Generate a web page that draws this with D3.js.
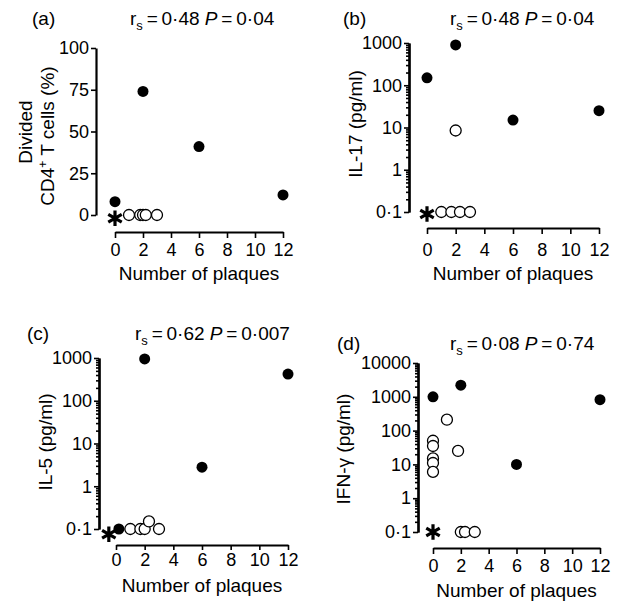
<!DOCTYPE html>
<html>
<head>
<meta charset="utf-8">
<script src="https://cdn.jsdelivr.net/npm/d3@7"></script>
<style>
  body { margin: 0; background: #fff; }
  svg text { font-family: "Liberation Sans", Arial, sans-serif; fill: #000; }
</style>
</head>
<body>
<svg id="chart" width="621" height="601"></svg>
<script>
// shared x axis ticks
const xTicks = [0, 2, 4, 6, 8, 10, 12];

// panel names and stats
const panelNames = ['(a)', '(b)', '(c)', '(d)'];
const rsValues = ['0·48', '0·48', '0·62', '0·08'];
const pValues = ['0·04', '0·04', '0·007', '0·74'];

// (a) divided CD4+ T cells (%)
const aFilledX = [0, 2, 6, 12];
const aFilledY = [8, 74, 41, 12];
const aOpenX = [1, 1.8, 2, 2.2, 3];
const aOpenY = [0, 0, 0, 0, 0];
const aStar = [0, -2];
const aTicks = [0, 25, 50, 75, 100];

// (b) IL-17 (pg/ml)
const bFilledX = [0, 2, 6, 12];
const bFilledY = [150, 900, 15, 25];
const bOpenX = [2, 1, 1.7, 2.3, 3];
const bOpenY = [8.5, 0.1, 0.1, 0.1, 0.1];
const bStar = [0, 0.09];
const bTicks = [0.1, 1, 10, 100, 1000];

// (c) IL-5 (pg/ml)
const cFilledX = [0.2, 2, 6, 12];
const cFilledY = [0.1, 950, 2.8, 420];
const cOpenX = [1, 1.7, 2, 2.3, 3];
const cOpenY = [0.1, 0.1, 0.1, 0.15, 0.1];
const cStar = [-0.5, 0.075];
const cTicks = [0.1, 1, 10, 100, 1000];

// (d) IFN-γ (pg/ml)
const dFilledX = [0, 2, 6, 12];
const dFilledY = [1000, 2200, 10, 820];
const dOpenX = [0, 0, 0, 0, 0, 1, 1.8, 2, 2.3, 3];
const dOpenY = [50, 35, 15, 11, 6, 210, 25, 0.1, 0.1, 0.1];
const dStar = [0, 0.1];
const dTicks = [0.1, 1, 10, 100, 1000, 10000];

const svg = d3.select('#chart');

const fmtLog = v => v < 1 ? '0·1' : String(v);

const panels = [
  { i: 0, log: false, ymin: 0, ymax: 100, yTicks: aTicks, fmt: String,
    filled: [aFilledX, aFilledY], open: [aOpenX, aOpenY], star: aStar,
    yAxisX: 96, xr: [115, 283], yr: [215, 48], xAxisY: 232, xTick: 6, xPad: 5, xTitleY: 273,
    nameX: 32, statX: 130, headY: 18 },
  { i: 1, log: true, ymin: 0.1, ymax: 1000, yTicks: bTicks, fmt: fmtLog,
    filled: [bFilledX, bFilledY], open: [bOpenX, bOpenY], star: bStar,
    yAxisX: 409, xr: [427, 599], yr: [212, 43], xAxisY: 228, xTick: 6, xPad: 9, xTitleY: 273,
    nameX: 343, statX: 450, headY: 18, ylab: 'IL-17 (pg/ml)', ylabX: 355, ylabY: 124 },
  { i: 2, log: true, ymin: 0.1, ymax: 1000, yTicks: cTicks, fmt: fmtLog,
    filled: [cFilledX, cFilledY], open: [cOpenX, cOpenY], star: cStar,
    yAxisX: 99, xr: [116, 288], yr: [529, 358], xAxisY: 545, xTick: 5, xPad: 3, xTitleY: 585,
    nameX: 27, statX: 135, headY: 333, ylab: 'IL-5 (pg/ml)', ylabX: 45, ylabY: 442 },
  { i: 3, log: true, ymin: 0.1, ymax: 10000, yTicks: dTicks, fmt: fmtLog,
    filled: [dFilledX, dFilledY], open: [dOpenX, dOpenY], star: dStar,
    yAxisX: 418, xr: [433, 600], yr: [532, 363], xAxisY: 548, xTick: 6, xPad: 5, xTitleY: 590,
    nameX: 337, statX: 450, headY: 343, ylab: 'IFN-γ (pg/ml)', ylabX: 343, ylabY: 449 }
];

function drawPanel(p) {
  const g = svg.append('g');
  const x = d3.scaleLinear().domain([0, 12]).range(p.xr);
  const y = p.log
    ? d3.scaleLog().domain([p.ymin, p.ymax]).range(p.yr)
    : d3.scaleLinear().domain([p.ymin, p.ymax]).range(p.yr);

  // x axis
  g.append('g')
    .attr('class', 'axis')
    .attr('transform', `translate(0,${p.xAxisY})`)
    .call(d3.axisBottom(x).tickValues(xTicks).tickSize(p.xTick).tickPadding(p.xPad).tickSizeOuter(0));

  // minor ticks on log axes
  if (p.log) {
    const minor = [];
    for (let d = p.ymin; d < p.ymax; d *= 10) {
      for (let k = 2; k <= 9; k++) minor.push(d * k);
    }
    g.append('g')
      .attr('class', 'axis minor')
      .attr('transform', `translate(${p.yAxisX},0)`)
      .call(d3.axisLeft(y).tickValues(minor).tickSize(3).tickFormat('').tickSizeOuter(0));
  }

  // y axis
  g.append('g')
    .attr('class', 'axis')
    .attr('transform', `translate(${p.yAxisX},0)`)
    .call(d3.axisLeft(y).tickValues(p.yTicks).tickFormat(p.fmt).tickSize(5).tickPadding(2).tickSizeOuter(0));

  g.selectAll('.axis path.domain').attr('stroke', '#000').attr('stroke-width', 2.2);
  g.selectAll('.axis .tick line').attr('stroke', '#000').attr('stroke-width', 1.6);
  g.selectAll('.axis .tick text').attr('font-size', 18).attr('fill', '#000');

  // x title
  g.append('text')
    .attr('x', (p.xr[0] + p.xr[1]) / 2)
    .attr('y', p.xTitleY)
    .attr('dy', '0.35em')
    .attr('text-anchor', 'middle')
    .attr('font-size', 19)
    .text('Number of plaques');

  // panel name
  g.append('text')
    .attr('x', p.nameX).attr('y', p.headY).attr('dy', '0.35em')
    .attr('font-size', 19)
    .text(panelNames[p.i]);

  // stats
  const st = g.append('text')
    .attr('x', p.statX).attr('y', p.headY).attr('dy', '0.35em')
    .attr('font-size', 19);
  st.append('tspan').text('r');
  st.append('tspan').attr('font-size', 13).attr('dy', 5).text('s');
  st.append('tspan').attr('dy', -5).text('\u2009=\u2009' + rsValues[p.i] + ' ');
  st.append('tspan').attr('font-style', 'italic').text('P');
  st.append('tspan').text('\u2009=\u2009' + pValues[p.i]);

  // y title
  if (p.ylab) {
    g.append('text')
      .attr('transform', `translate(${p.ylabX},${p.ylabY}) rotate(-90)`)
      .attr('dy', '0.35em')
      .attr('text-anchor', 'middle')
      .attr('font-size', 19)
      .text(p.ylab);
  }

  // open circles
  g.selectAll('circle.open')
    .data(p.open[0].map((v, k) => [v, p.open[1][k]]))
    .enter().append('circle')
    .attr('class', 'open')
    .attr('cx', d => x(d[0]))
    .attr('cy', d => y(d[1]))
    .attr('r', 5.5)
    .attr('fill', '#fff')
    .attr('stroke', '#000')
    .attr('stroke-width', 1.3);

  // filled circles
  g.selectAll('circle.filled')
    .data(p.filled[0].map((v, k) => [v, p.filled[1][k]]))
    .enter().append('circle')
    .attr('class', 'filled')
    .attr('cx', d => x(d[0]))
    .attr('cy', d => y(d[1]))
    .attr('r', 5.5)
    .attr('fill', '#000');

  // asterisk
  g.append('path')
    .attr('d', d3.symbol(d3.symbolAsterisk, 170)())
    .attr('transform', `translate(${x(p.star[0])},${y(p.star[1])})`)
    .attr('stroke', '#000')
    .attr('stroke-width', 3.2)
    .attr('fill', 'none');
}

panels.forEach(drawPanel);

// (a) two-line y title
svg.append('text')
  .attr('transform', 'translate(25,132) rotate(-90)')
  .attr('dy', '0.35em').attr('text-anchor', 'middle').attr('font-size', 19)
  .text('Divided');
const cd4 = svg.append('text')
  .attr('transform', 'translate(47,136) rotate(-90)')
  .attr('dy', '0.35em').attr('text-anchor', 'middle').attr('font-size', 19);
cd4.append('tspan').text('CD4');
cd4.append('tspan').attr('font-size', 12).attr('dy', -7).text('+');
cd4.append('tspan').attr('dy', 7).text(' T cells (%)');
</script>
</body>
</html>
